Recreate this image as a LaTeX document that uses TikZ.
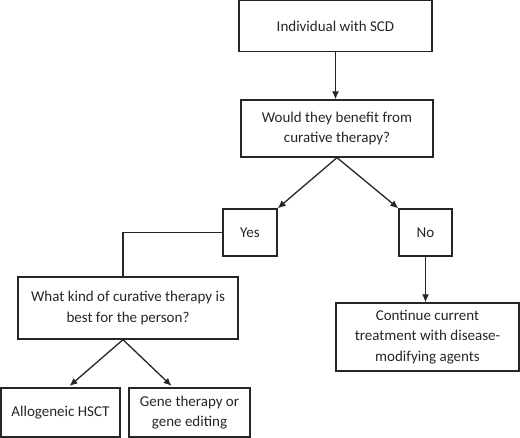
\documentclass[tikz,border=0pt]{standalone}
\usepackage{fontspec}
\setmainfont{Carlito}
\usetikzlibrary{arrows.meta,calc}
\begin{document}
\begin{tikzpicture}[x=1pt,y=-1pt,
  box/.style={draw=black!85,line width=1.3pt,rectangle,inner sep=0pt,align=center,
    font=\fontsize{15}{20.5}\selectfont,text=black!85},
  conn/.style={draw=black!85,line width=1.3pt},
  arr/.style={conn,-{Latex[length=8pt,width=7pt]}}]
\useasboundingbox (0,0) rectangle (520,438);
\node[box,minimum width=193pt,minimum height=51pt] (b1) at (335.5,26) {Individual with SCD};
\node[box,minimum width=192pt,minimum height=57pt] (b2) at (337,128.5) {Would they benefit from\\curative therapy?};
\node[box,minimum width=54pt,minimum height=47pt] (yes) at (250,232.5) {Yes};
\node[box,minimum width=53pt,minimum height=47pt] (no) at (425.5,232.5) {No};
\node[box,minimum width=183pt,minimum height=68pt] (cont) at (427.5,337) {Continue current\\treatment with disease-\\modifying agents};
\node[box,minimum width=220pt,minimum height=62pt] (what) at (128,308) {What kind of curative therapy is\\best for the person?};
\node[box,minimum width=119pt,minimum height=49pt] (allo) at (60.5,412.5) {Allogeneic HSCT};
\node[box,minimum width=121pt,minimum height=49pt] (gene) at (189.5,412.5) {Gene therapy or\\gene editing};
\draw[arr] (b1.south) -- (b1.south |- b2.north);
\draw[arr] (b2.south) -- (yes.north east);
\draw[arr] (b2.south) -- (no.north west);
\draw[arr] (no.south) -- (no.south |- cont.north);
\draw[conn] (yes.west) -| ([xshift=-5pt]what.north);
\draw[arr,shorten >=2pt] ([xshift=-5pt]what.south) -- ([xshift=7.5pt]allo.north);
\draw[arr,shorten >=2pt] ([xshift=-5pt]what.south) -- ([xshift=-16.5pt]gene.north);
\end{tikzpicture}
\end{document}
